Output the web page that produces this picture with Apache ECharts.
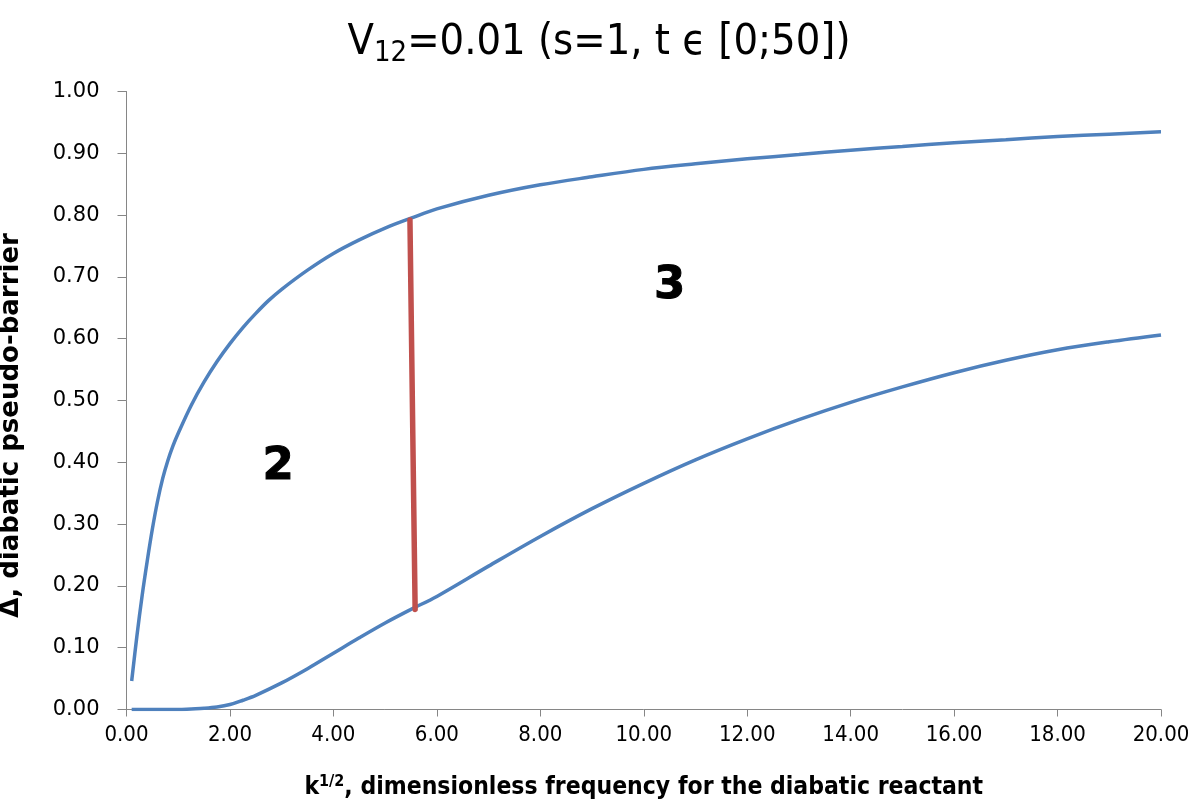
<!DOCTYPE html>
<html><head><meta charset="utf-8">
<script src="https://cdn.jsdelivr.net/npm/echarts@6/dist/echarts.min.js"></script>
<style>html,body{margin:0;padding:0;background:#fff}#c{width:1198px;height:808px}</style>
</head><body><div id="c"></div>
<script>
const upperX = [0.1,0.2,0.3,0.4,0.5,0.6,0.7,0.8,0.9,1,1.25,1.5,1.75,2,2.25,2.5,2.75,3,3.5,4,4.5,5,5.5,6,7,8,9,10,11,12,13,14,15,16,17,18,19,20];
const upperY = [0.046,0.118,0.183,0.24,0.292,0.337,0.374,0.403,0.427,0.447,0.492,0.53,0.563,0.592,0.618,0.641,0.662,0.68,0.711,0.738,0.76,0.779,0.795,0.81,0.832,0.849,0.862,0.874,0.883,0.891,0.898,0.905,0.911,0.917,0.922,0.927,0.931,0.935];
const lowerX = [0.1,0.5,1,1.25,1.5,1.75,2,2.25,2.5,3,3.5,4,4.5,5,5.5,6,7,8,9,10,11,12,13,14,15,16,17,18,19,20];
const lowerY = [0,0,0,0.001,0.002,0.004,0.008,0.015,0.023,0.043,0.066,0.091,0.116,0.14,0.162,0.183,0.232,0.28,0.325,0.366,0.404,0.438,0.469,0.497,0.522,0.545,0.565,0.582,0.595,0.606];
const redX = [5.48, 5.58];
const redY = [0.792, 0.162];
const regionLabels = ['2','3'];
const regionX = [2.93, 10.5];
const regionY = [0.392, 0.685];

const zip = (a,b)=>a.map((v,i)=>[v,b[i]]);
const chart = echarts.init(document.getElementById('c'));
const cond = "'DejaVu Sans Condensed','Liberation Sans Narrow',sans-serif";
chart.setOption({
  animation:false,
  title:{
    text:'{a|V}{s|12}{a|=0.01 (s=1, t ϵ [0;50])}',
    left:'center', top:12,
    textStyle:{rich:{
      a:{fontFamily:cond,fontSize:43,fontWeight:'normal',color:'#000'},
      s:{fontFamily:cond,fontSize:29,fontWeight:'normal',color:'#000',padding:[22,0,0,0]}
    }}
  },
  grid:{left:126.5,right:37,top:91.5,bottom:98.5,containLabel:false,outerBoundsMode:'none'},
  xAxis:{
    type:'value',min:0,max:20,interval:2,
    axisLine:{lineStyle:{color:'#868686',width:1}},
    axisTick:{show:true,length:7,lineStyle:{color:'#868686'}},
    splitLine:{show:false},
    axisLabel:{formatter:v=>v.toFixed(2),fontFamily:cond,fontSize:22,color:'#000',margin:15},
    name:'{b|k}{sup|1/2}{b|, dimensionless frequency for the diabatic reactant}',
    nameLocation:'middle',nameGap:64,
    nameTextStyle:{rich:{
      b:{fontFamily:cond,fontSize:24.5,fontWeight:'bold',color:'#000'},
      sup:{fontFamily:cond,fontSize:16,fontWeight:'bold',color:'#000',padding:[0,0,12,0]}
    }}
  },
  yAxis:{
    type:'value',min:0,max:1,interval:0.1,
    axisLine:{show:true,lineStyle:{color:'#868686',width:1}},
    axisTick:{show:true,length:9,lineStyle:{color:'#868686'}},
    splitLine:{show:false},
    axisLabel:{formatter:v=>v.toFixed(2),fontFamily:'DejaVu Sans',fontSize:21,color:'#000',margin:27},
    name:'Δ, diabatic pseudo-barrier',nameLocation:'middle',nameGap:102,
    nameTextStyle:{fontFamily:'DejaVu Sans',fontSize:26,fontWeight:'bold',color:'#000',padding:[0,50,0,0]}
  },
  series:[
    {type:'line',data:zip(upperX,upperY),smooth:0.35,showSymbol:false,lineStyle:{color:'#4F81BD',width:3.5},itemStyle:{color:'#4F81BD'}},
    {type:'line',data:zip(lowerX,lowerY),smooth:0.35,showSymbol:false,lineStyle:{color:'#4F81BD',width:3.5},itemStyle:{color:'#4F81BD'}},
    {type:'line',data:zip(redX,redY),showSymbol:false,lineStyle:{color:'#C0504D',width:5.5,cap:'round'},itemStyle:{color:'#C0504D'}},
    {type:'scatter',symbolSize:0,itemStyle:{opacity:1},data:regionX.map((x,i)=>({value:[x,regionY[i]],name:regionLabels[i]})),
      label:{show:true,position:'inside',opacity:1,color:'#000',textBorderColor:'#000',textBorderWidth:1,formatter:p=>p.name,
        fontFamily:'DejaVu Sans',fontWeight:'bold',fontSize:45}}
  ]
});
</script></body></html>
